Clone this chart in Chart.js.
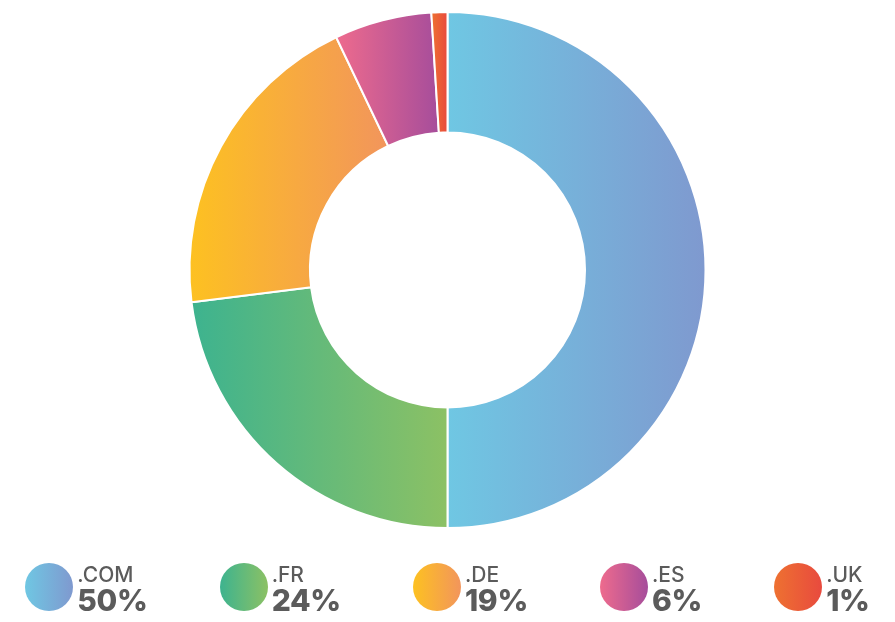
<!DOCTYPE html>
<html>
<head>
<meta charset="utf-8">
<title>Domains</title>
<script src="https://cdn.jsdelivr.net/npm/chart.js@4.4.1/dist/chart.umd.min.js"></script>
<style>
	html, body { margin: 0; padding: 0; background: #fff; }
	#wrap { position: relative; width: 895px; height: 622px; }
	#legend {
		position: absolute; left: 0; top: 563px; width: 895px;
		display: flex; justify-content: center; gap: 72px;
		font-family: Inter, 'Open Sans', sans-serif; color: #5b5b5b;
	}
	.item { display: flex; align-items: flex-start; }
	.dot { width: 48px; height: 48px; border-radius: 50%; }
	.txt { margin-left: 4px; }
	.lab { font-size: 21px; font-weight: 500; line-height: 20px; margin-top: 2px; }
	.val { font-size: 30px; font-weight: 800; line-height: 30px; letter-spacing: -0.3px; }
</style>
</head>
<body>
<div id="wrap">
	<canvas id="myChart" width="895" height="622"></canvas>
	<div id="legend"></div>
</div>
<script>
// Data
var labels = ['.COM', '.FR', '.DE', '.ES', '.UK'];
var values = [50, 23, 19.9, 6.1, 1];
var pctLabels = ['50%', '24%', '19%', '6%', '1%'];
var colorsLeft = ['#6fc7e3', '#3db38f', '#fdc121', '#ee6b8d', '#ee7131'];
var colorsRight = ['#7f99cf', '#8cc164', '#f2955c', '#a64d9b', '#e84a3e'];

// Horizontal gradient per slice, spanning the slice's own x-extent
var sliceGradient = {
	id: 'sliceGradient',
	beforeDatasetsDraw: function (chart) {
		var ctx = chart.ctx;
		var meta = chart.getDatasetMeta(0);
		meta.data.forEach(function (arc, i) {
			var p = arc.getProps(['x', 'startAngle', 'endAngle', 'innerRadius', 'outerRadius'], true);
			var xs = [];
			[p.innerRadius, p.outerRadius].forEach(function (r) {
				xs.push(p.x + r * Math.cos(p.startAngle));
				xs.push(p.x + r * Math.cos(p.endAngle));
			});
			// leftmost / rightmost points if the arc crosses them
			var k;
			for (k = Math.ceil(p.startAngle / Math.PI); k * Math.PI <= p.endAngle; k++) {
				xs.push(p.x + p.outerRadius * Math.cos(k * Math.PI));
			}
			var x0 = Math.min.apply(null, xs), x1 = Math.max.apply(null, xs);
			var g = ctx.createLinearGradient(x0, 0, x1, 0);
			g.addColorStop(0, colorsLeft[i]);
			g.addColorStop(1, colorsRight[i]);
			arc.options.backgroundColor = g;
		});
	}
};

new Chart(document.getElementById('myChart'), {
	type: 'doughnut',
	data: {
		labels: labels,
		datasets: [{
			data: values,
			backgroundColor: colorsLeft,
			borderColor: '#fff',
			borderWidth: 2,
			hoverOffset: 0
		}]
	},
	options: {
		responsive: false,
		animation: false,
		cutout: '53.3%',
		layout: { padding: { top: 11, bottom: 93 } },
		plugins: {
			legend: { display: false },
			tooltip: { enabled: false }
		}
	},
	plugins: [sliceGradient]
});

// Legend
var legend = document.getElementById('legend');
labels.forEach(function (lab, i) {
	var item = document.createElement('div');
	item.className = 'item';
	item.innerHTML = '<div class="dot" style="background:linear-gradient(to right,' + colorsLeft[i] + ',' + colorsRight[i] + ')"></div>' +
		'<div class="txt"><div class="lab">' + lab + '</div><div class="val">' + pctLabels[i] + '</div></div>';
	legend.appendChild(item);
});
</script>
</body>
</html>
